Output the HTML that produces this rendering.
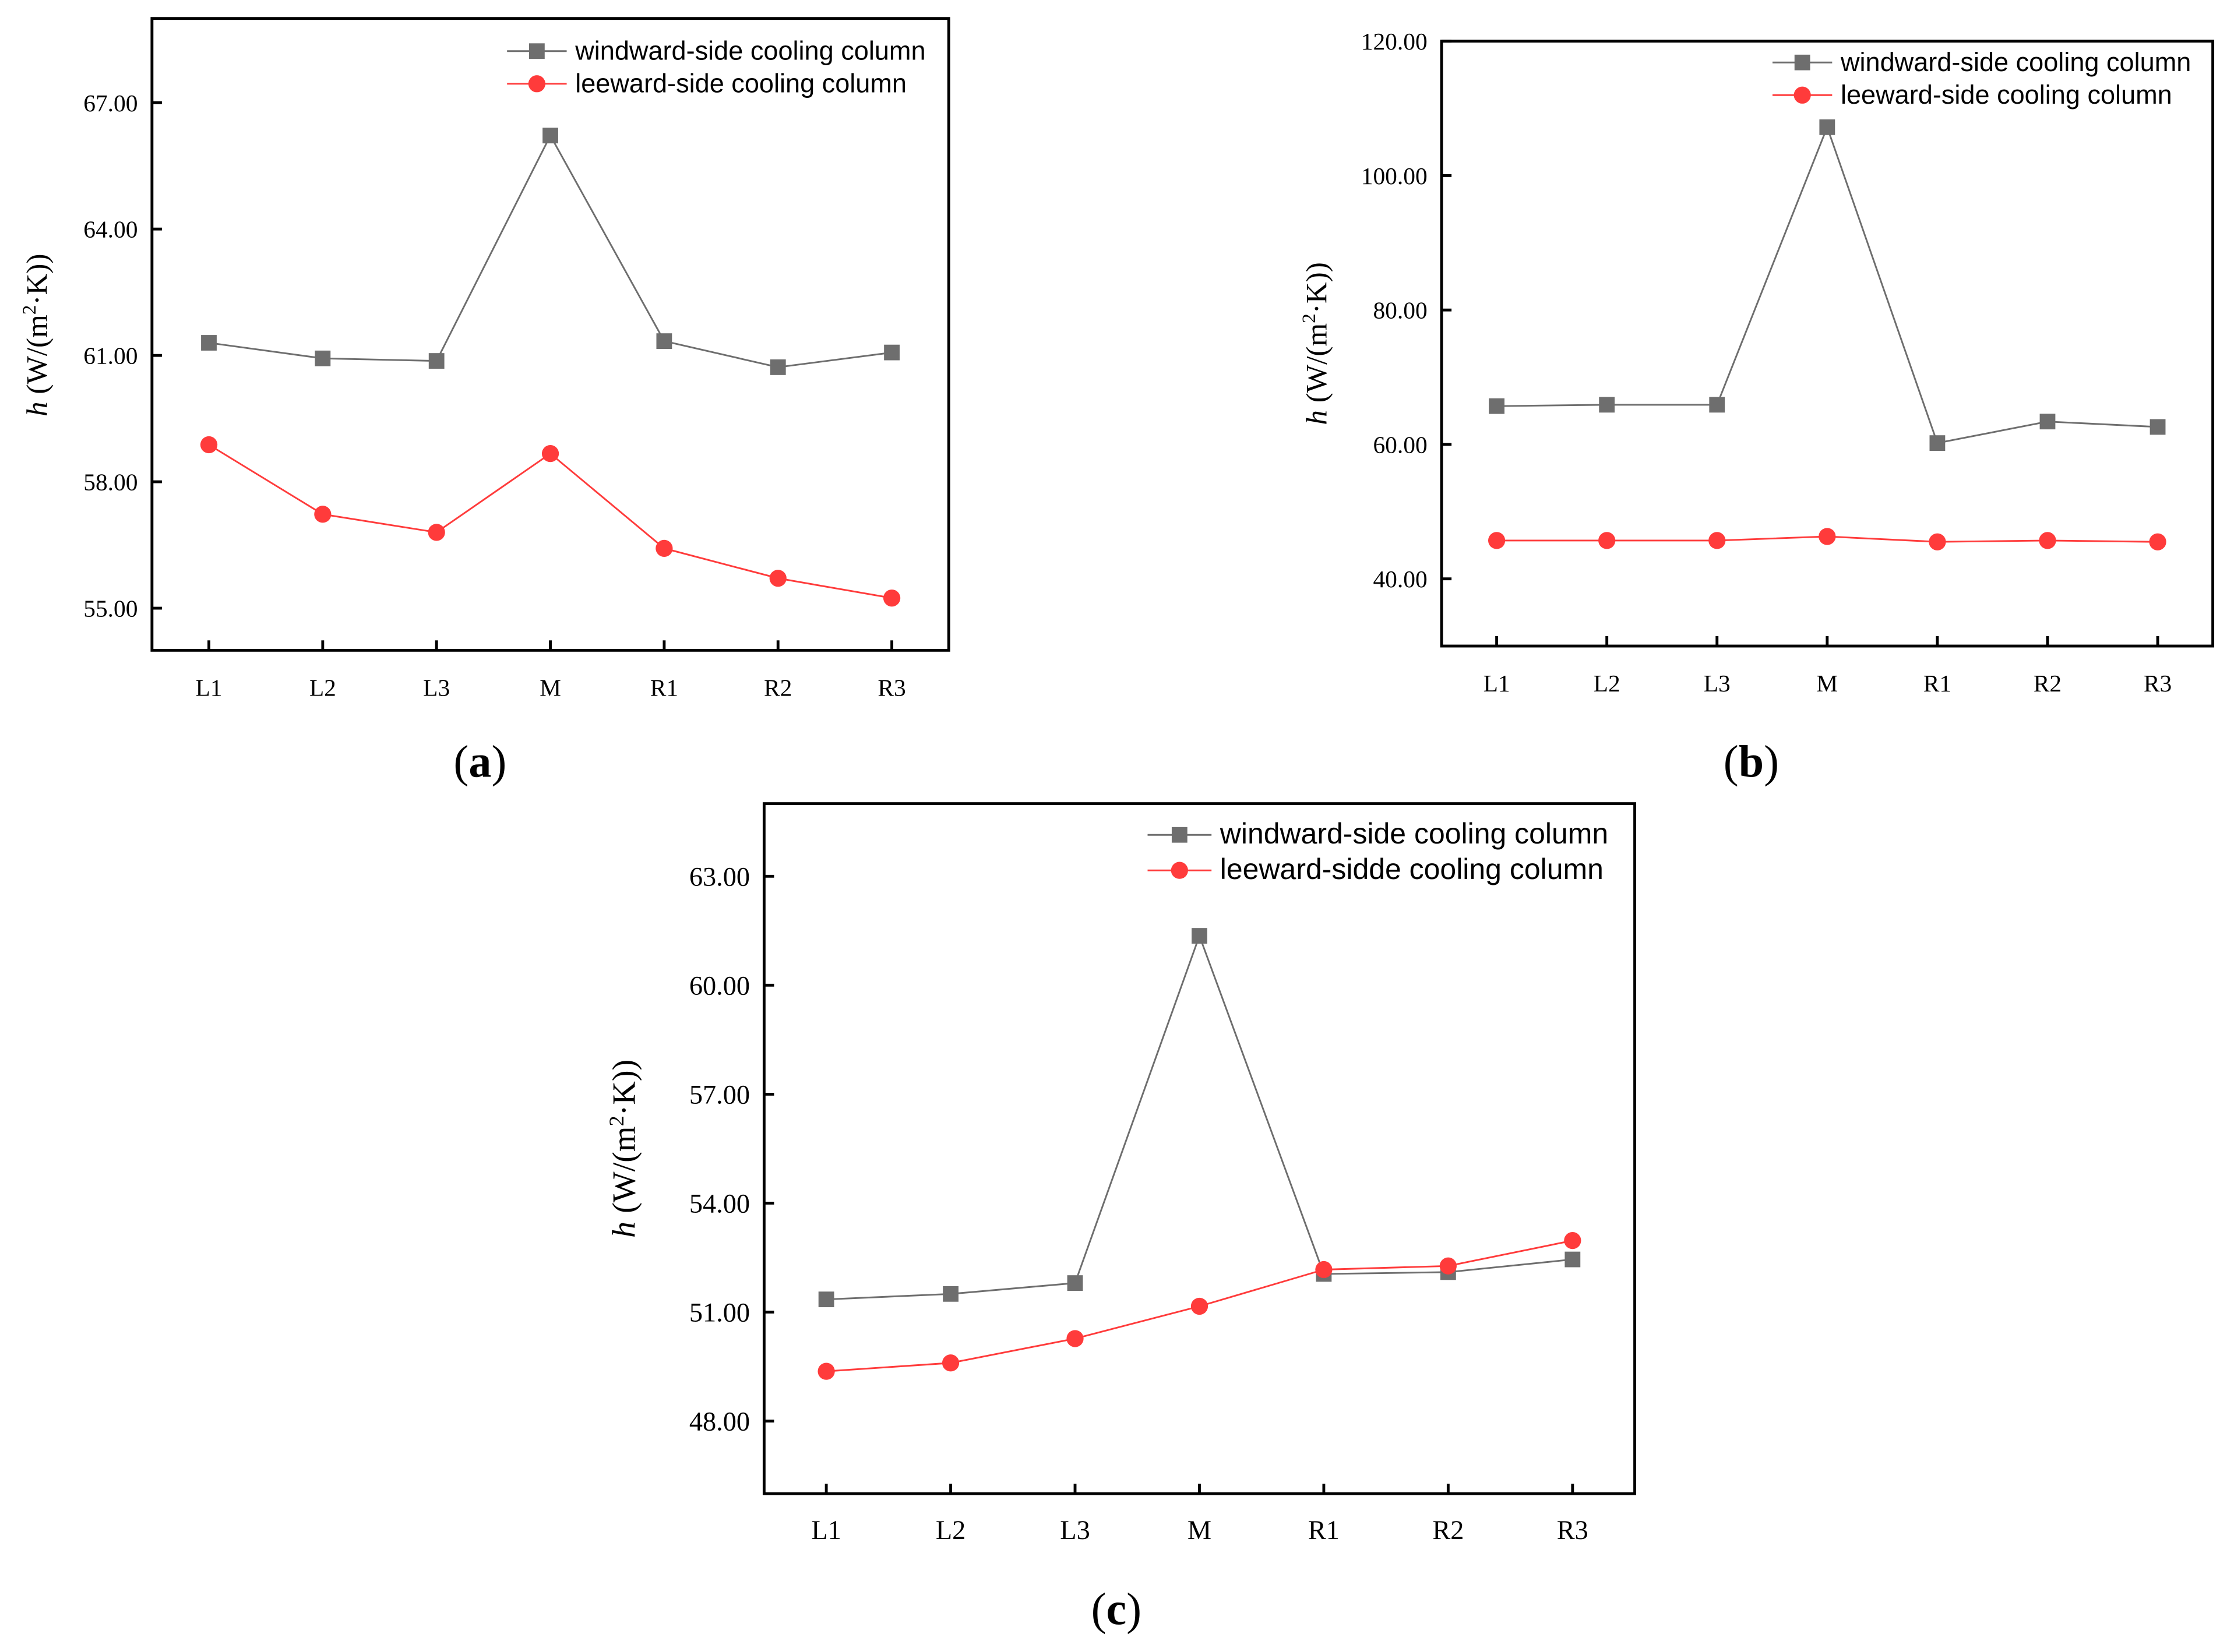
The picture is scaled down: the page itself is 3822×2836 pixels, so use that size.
<!DOCTYPE html>
<html><head><meta charset="utf-8"><style>
html,body{margin:0;padding:0;background:#fff;}
svg{display:block;}
.tk{font-family:"Liberation Serif",serif;fill:#000;}
.lg{font-family:"Liberation Sans",sans-serif;fill:#000;}
</style></head><body>
<svg id="fig" width="3822" height="2836" viewBox="0 0 1568 1163.5" xmlns="http://www.w3.org/2000/svg"></svg>
<script>
const categories = ["L1","L2","L3","M","R1","R2","R3"];
const windwardA = [61.3,60.93,60.87,66.22,61.34,60.72,61.07];
const leewardA = [58.88,57.23,56.8,58.67,56.42,55.71,55.24];
const ticksA = [55,58,61,64,67];
const windwardB = [65.7,65.9,65.9,107.2,60.2,63.4,62.6];
const leewardB = [45.7,45.7,45.7,46.3,45.5,45.7,45.5];
const ticksB = [40,60,80,100,120];
const windwardC = [51.35,51.5,51.8,61.36,52.05,52.1,52.45];
const leewardC = [49.37,49.6,50.27,51.16,52.17,52.27,52.97];
const ticksC = [48,51,54,57,60,63];

const NS="http://www.w3.org/2000/svg";
const svg=document.getElementById('fig');
function mk(tag,attrs,parent){const e=document.createElementNS(NS,tag);for(const k in attrs)e.setAttribute(k,attrs[k]);(parent||svg).appendChild(e);return e;}

function panel(cfg){
  const g=mk('g',{});
  
  
  const {x0,x1,y0,y1,vmin,vmax}=cfg;
  const n=categories.length;
  const xs=i=>x0+(i+0.5)*(x1-x0)/n;
  const ys=v=>y1-(v-vmin)/(vmax-vmin)*(y1-y0);
  const fs=cfg.fs;
  cfg.ticks.forEach(t=>{
    const l=mk('line',{x1:x0,x2:x0+7,y1:ys(t),y2:ys(t),stroke:'#000','stroke-width':2},g);
    
    
    const tx=mk('text',{x:x0-10,y:ys(t)+fs*0.35,'text-anchor':'end',class:'tk',style:'font-size:'+fs+'px'},g);
    tx.textContent=t.toFixed(2);
    
    
  });
  categories.forEach((c,i)=>{
    const l=mk('line',{x1:xs(i),x2:xs(i),y1:y1,y2:y1-7,stroke:'#000','stroke-width':2},g);
    
    
    const tx=mk('text',{x:xs(i),y:y1+32,'text-anchor':'middle',class:'tk',style:'font-size:'+fs+'px'},g);
    tx.textContent=c;
    
    
  });
  const box=mk('rect',{x:x0,y:y0,width:x1-x0,height:y1-y0,fill:'none',stroke:'#000','stroke-width':2},g);
  
  
  const series=[{d:cfg.wind,c:'#6e6e6e',m:'sq',name:'windward-series'},{d:cfg.lee,c:'#ff3b3b',m:'ci',name:'leeward-series'}];
  series.forEach(s=>{
    const pl=mk('polyline',{points:s.d.map((v,i)=>xs(i)+','+ys(v)).join(' '),fill:'none',stroke:s.c,'stroke-width':1.2},g);
    
    
    s.d.forEach((v,i)=>{
      let m;
      if(s.m==='sq') m=mk('rect',{x:xs(i)-5.5,y:ys(v)-5.5,width:11,height:11,fill:s.c},g);
      else m=mk('circle',{cx:xs(i),cy:ys(v),r:6,fill:s.c},g);
      
      
    });
  });
  const L=cfg.leg;
  [[L.y1,'#6e6e6e','sq',cfg.l1],[L.y2,'#ff3b3b','ci',cfg.l2]].forEach(([y,c,m,t],k)=>{
    const lg=mk('g',{},g);
    
    
    mk('line',{x1:L.x,x2:L.x+L.w,y1:y,y2:y,stroke:c,'stroke-width':1.2},lg);
    const cx=L.x+L.w/2;
    if(m==='sq') mk('rect',{x:cx-5.5,y:y-5.5,width:11,height:11,fill:c},lg);
    else mk('circle',{cx:cx,cy:y,r:6,fill:c},lg);
    const tx=mk('text',{x:L.x+L.w+6,y:y+6,class:'lg',style:'font-size:'+L.fs+'px'},lg);
    tx.textContent=t;
  });
  const yf=cfg.yfs;
  const yl=mk('text',{transform:`translate(${cfg.ylx},${cfg.yly}) rotate(-90)`,'text-anchor':'middle',class:'tk',style:'font-size:'+yf+'px'},g);
  yl.innerHTML='<tspan font-style="italic">h</tspan> (W/(m<tspan dy="-8" style="font-size:'+(yf*0.65)+'px">2</tspan><tspan dy="8">·K))</tspan>';
  
  
  const pt=mk('text',{x:cfg.px,y:cfg.py,'text-anchor':'middle',class:'tk',style:'font-size:32px'},g);
  pt.innerHTML='(<tspan font-weight="bold">'+cfg.id+'</tspan>)';
  
  
}
panel({id:'a',x0:107,x1:668,y0:13,y1:458,vmin:54,vmax:69,ticks:ticksA,wind:windwardA,lee:leewardA,fs:17,yfs:21,
  leg:{x:357,w:42,y1:36,y2:59,fs:18.5},l1:'windward-side cooling column',l2:'leeward-side cooling column',ylx:33,yly:236,px:338,py:547});
panel({id:'b',x0:1015,x1:1558,y0:29,y1:455,vmin:30,vmax:120,ticks:ticksB,wind:windwardB,lee:leewardB,fs:17,yfs:21,
  leg:{x:1248,w:42,y1:44,y2:67,fs:18.5},l1:'windward-side cooling column',l2:'leeward-side cooling column',ylx:934,yly:242,px:1233,py:547});
panel({id:'c',x0:538,x1:1151,y0:566,y1:1052,vmin:46,vmax:65,ticks:ticksC,wind:windwardC,lee:leewardC,fs:19,yfs:23,
  leg:{x:808,w:45,y1:588,y2:613,fs:20.5},l1:'windward-side cooling column',l2:'leeward-sidde cooling column',ylx:447,yly:809,px:786,py:1144});
</script>
</body></html>
